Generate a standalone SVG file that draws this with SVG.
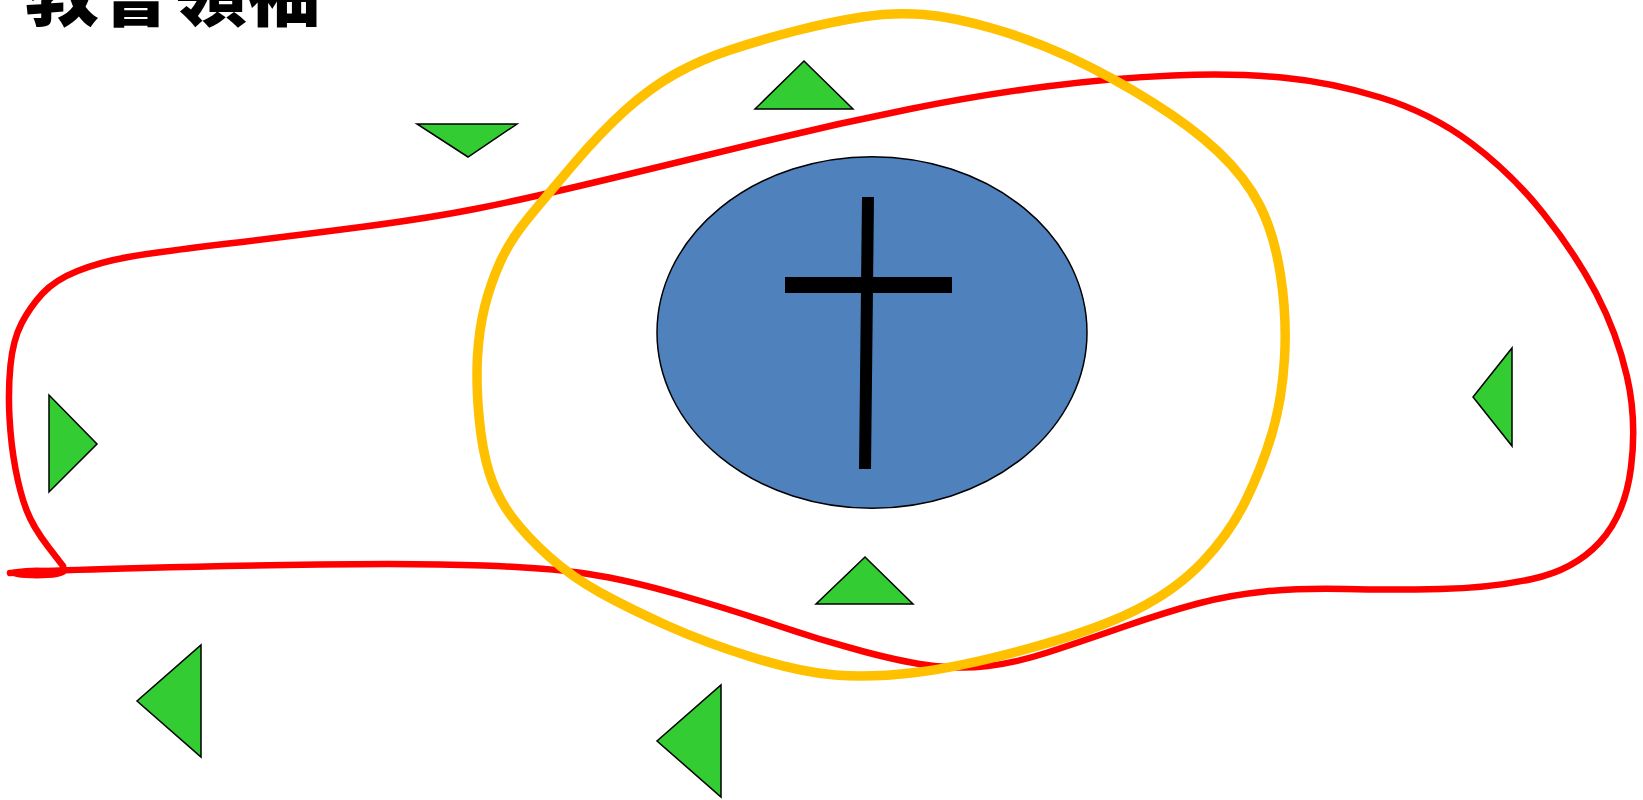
<svg xmlns="http://www.w3.org/2000/svg" width="1643" height="800" viewBox="0 0 1643 800">
<style>
.tri{fill:#33CC33;stroke:#000;stroke-width:1.5;stroke-linejoin:miter}
.red{fill:none;stroke:#FF0000;stroke-width:6.5;stroke-linecap:round;stroke-linejoin:round}
.yel{fill:none;stroke:#FFC000;stroke-width:9.5;stroke-linejoin:round}
.title{font-family:"Noto Sans CJK TC","Noto Sans CJK SC",sans-serif;font-weight:900;font-size:74px;fill:#000}
</style>
<rect width="1643" height="800" fill="#fff"/>
<text class="title" x="25" y="20">教會領袖</text>
<g id="connectors">
<path class="red" d="M63,566 L48,546.5 Q33,527 26.5,510 Q20,493 15.5,469 Q11,445 9.5,417.5 Q8,390 10.5,365 Q13,340 21.5,323.5 Q30,307 42.5,293.5 Q55,280 77.5,271 Q100,262 128.5,257 Q157,252 228.5,243.5 Q300,235 365,226.5 Q430,218 480,208 Q530,198 615,177.5 Q700,157 770,140 Q840,123 910,109 Q980,95 1046,86.5 Q1112,78 1173,75.5 Q1234,73 1282,77.5 Q1330,82 1380.5,97.5 Q1431,113 1471,143 Q1511,173 1543,213 Q1575,253 1596,293 Q1617,333 1627,376.5 Q1637,420 1631,467.5 Q1625,515 1599.5,542.5 Q1574,570 1532,579 Q1490,588 1440.5,589 Q1391,590 1345.5,589 Q1300,588 1265,591.5 Q1230,595 1198,603.5 Q1166,612 1123,627 Q1080,642 1047.5,652.5 Q1015,663 988,666 Q961,669 934,666 Q907,663 863.5,651.5 Q820,640 776,625 Q732,610 680,595 Q628,580 588.5,574 Q549,568 483.5,565.5 Q418,563 319,564.5 Q220,566 142.5,568 Q65,570 37,571.5 L10,573"/>
<ellipse cx="37" cy="573" rx="29" ry="5.5" fill="#FF0000"/>
<path class="yel" d="M862,17 Q894,12 923.5,14.5 Q953,17 993,28.5 Q1033,40 1072.5,58.5 Q1112,77 1152,102 Q1192,127 1218.5,152 Q1245,177 1259.5,205 Q1274,233 1280.5,275 Q1287,317 1284.5,358.5 Q1282,400 1272,433.5 Q1262,467 1246,500 Q1230,533 1203,561.5 Q1176,590 1136,610 Q1096,630 1028.5,648.5 Q961,667 915.5,672.5 Q870,678 835,675 Q800,672 753,657.5 Q706,643 667,625.5 Q628,608 600,592.5 Q572,577 549.5,557 Q527,537 512,517 Q497,497 489.5,473.5 Q482,450 479,416.5 Q476,383 477.5,356.5 Q479,330 484.5,307.5 Q490,285 500,262.5 Q510,240 529.5,216.5 Q549,193 575,162.5 Q601,132 625.5,110 Q650,88 675,74 Q700,60 730,50 Q760,40 795,31 Q830,22 862,17 Z"/>
</g>
<g id="church">
<ellipse cx="872" cy="332.5" rx="215" ry="175.8" fill="#4F81BD" stroke="#000" stroke-width="1.5"/>
<polygon points="862,197 874,197 871,469 859,469" fill="#000"/>
<rect x="785" y="277" width="167" height="16" fill="#000"/>
</g>
<g id="tri-left"><polygon class="tri" points="49,395 49,492 97,444"/></g>
<g id="tri-down"><polygon class="tri" points="417,124 517,124 468,157"/></g>
<g id="tri-top"><polygon class="tri" points="755,109 853,109 804,61"/></g>
<g id="tri-bottom"><polygon class="tri" points="816,604 913,604 865,557"/></g>
<g id="tri-right"><polygon class="tri" points="1512,348 1512,446 1473,397"/></g>
<g id="tri-lowleft"><polygon class="tri" points="201,645 201,757 137,701"/></g>
<g id="tri-lowmid"><polygon class="tri" points="721,685 721,797 657,741"/></g>
</svg>
